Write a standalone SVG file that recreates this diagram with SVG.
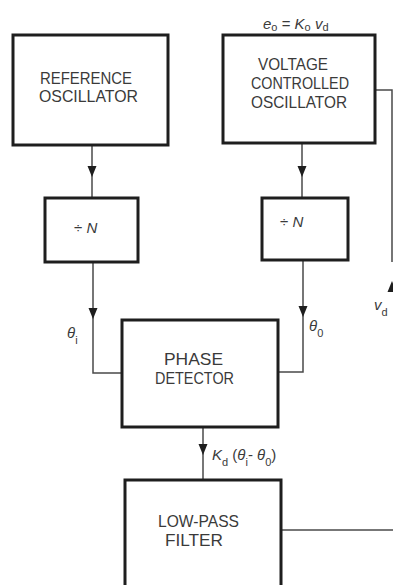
<svg xmlns="http://www.w3.org/2000/svg" width="393" height="585" viewBox="0 0 393 585">
<style>
.box{fill:#fff;stroke:#1e1e1e;stroke-width:3}
.wire{fill:none;stroke:#4a4a4a;stroke-width:1.5}
.lbl{font-family:"Liberation Sans",Arial,sans-serif;font-size:16.5px;fill:#3a3a3a}
.math{font-family:"Liberation Sans",Arial,sans-serif;font-size:15px;font-style:italic;fill:#3a3a3a}
.sub{font-size:11px;font-style:normal}
</style>
<defs>
<path id="ah" d="M0 0 L-4.5 -11 L4.5 -11 Z" fill="#1e1e1e"/>
</defs>
<rect width="393" height="585" fill="#fff"/>
<g id="connectors">
<path class="wire" d="M92 145 V198"/>
<use href="#ah" x="92" y="177"/>
<path class="wire" d="M302 143 V198"/>
<use href="#ah" x="302" y="177"/>
<path class="wire" d="M93 262 V373 H122"/>
<use href="#ah" x="93" y="319"/>
<path class="wire" d="M303 260 V372 H278"/>
<use href="#ah" x="303" y="317"/>
<path class="wire" d="M203 427 V480"/>
<use href="#ah" x="203" y="455"/>
<path class="wire" d="M375 90 H392 V262"/>
<use href="#ah" transform="translate(392 281) rotate(180)"/>
<path class="wire" d="M281 530 H393"/>
</g>
<g id="ref-osc">
<rect class="box" x="13" y="35" width="155" height="110"/>
<text class="lbl" x="40" y="84" textLength="92" lengthAdjust="spacingAndGlyphs">REFERENCE</text>
<text class="lbl" x="39" y="102" textLength="99" lengthAdjust="spacingAndGlyphs">OSCILLATOR</text>
</g>
<g id="vco">
<rect class="box" x="223" y="35" width="152" height="108"/>
<text class="lbl" x="258" y="70" textLength="70" lengthAdjust="spacingAndGlyphs">VOLTAGE</text>
<text class="lbl" x="251" y="89" textLength="98" lengthAdjust="spacingAndGlyphs">CONTROLLED</text>
<text class="lbl" x="251" y="108" textLength="96" lengthAdjust="spacingAndGlyphs">OSCILLATOR</text>
</g>
<g id="vco-eq">
<text class="math" x="263" y="29">e<tspan class="sub" dy="2">o</tspan><tspan dy="-2" font-style="normal"> = </tspan>K<tspan class="sub" dy="2">o</tspan><tspan dy="-2"> v</tspan><tspan class="sub" dy="2">d</tspan></text>
</g>
<g id="div-left">
<rect class="box" x="45" y="198" width="93" height="64"/>
<text class="math" x="74" y="233" font-size="17"><tspan font-style="normal">÷</tspan> N</text>
</g>
<g id="div-right">
<rect class="box" x="262" y="198" width="86" height="62"/>
<text class="math" x="280" y="227" font-size="17"><tspan font-style="normal">÷</tspan> N</text>
</g>
<g id="phase-detector">
<rect class="box" x="122" y="320" width="156" height="107"/>
<text class="lbl" x="164" y="365" textLength="59" lengthAdjust="spacingAndGlyphs">PHASE</text>
<text class="lbl" x="155" y="384" textLength="79" lengthAdjust="spacingAndGlyphs">DETECTOR</text>
</g>
<g id="lpf">
<rect class="box" x="125" y="480" width="156" height="115"/>
<text class="lbl" x="158" y="527" textLength="81" lengthAdjust="spacingAndGlyphs">LOW-PASS</text>
<text class="lbl" x="165" y="546" textLength="58" lengthAdjust="spacingAndGlyphs">FILTER</text>
</g>
<g id="labels">
<text class="math" x="67" y="338">θ<tspan class="sub" dy="6">i</tspan></text>
<text class="math" x="309" y="331">θ<tspan class="sub" dy="6">0</tspan></text>
<text class="math" x="212" y="460">K<tspan class="sub" dy="6">d</tspan><tspan dy="-6" font-style="normal"> (</tspan>θ<tspan class="sub" dy="6">i</tspan><tspan dy="-6" font-style="normal">- </tspan>θ<tspan class="sub" dy="6">0</tspan><tspan dy="-6" font-style="normal">)</tspan></text>
<text class="math" x="374" y="310">v<tspan class="sub" dy="6">d</tspan></text>
</g>
</svg>
